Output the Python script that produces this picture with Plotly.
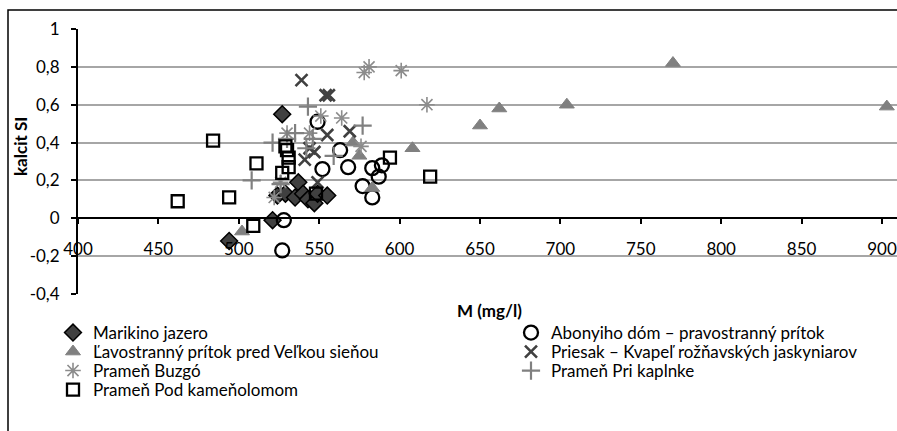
import plotly.graph_objects as go

# ---------------- data ----------------
marikino_x = [527, 494, 521, 524, 529, 537, 535, 540, 543, 547, 549, 555]
marikino_y = [0.55, -0.12, -0.01, 0.12, 0.13, 0.19, 0.11, 0.13, 0.10, 0.08, 0.13, 0.12]

abonyi_x = [549, 563, 552, 568, 583, 589, 577, 583, 587, 528, 527]
abonyi_y = [0.51, 0.36, 0.26, 0.27, 0.265, 0.28, 0.17, 0.11, 0.22, -0.01, -0.17]

lavo_x = [502, 571, 575, 583, 608, 650, 662, 704, 770, 903]
lavo_y = [-0.07, 0.40, 0.33, 0.16, 0.37, 0.49, 0.58, 0.60, 0.82, 0.59]

priesak_x = [539, 554, 556, 555, 569, 544, 541, 547, 549]
priesak_y = [0.73, 0.65, 0.65, 0.44, 0.46, 0.37, 0.31, 0.35, 0.19]

buzgo_x = [522, 526, 530, 544, 551, 564, 576, 578, 581, 601, 617]
buzgo_y = [0.11, 0.19, 0.45, 0.45, 0.54, 0.53, 0.38, 0.77, 0.80, 0.78, 0.60]

kaplnka_x = [508, 521, 526, 535, 542, 546, 543, 559, 577, 530]
kaplnka_y = [0.20, 0.40, 0.18, 0.45, 0.37, 0.42, 0.59, 0.33, 0.49, 0.42]

kamen_x = [462, 484, 494, 509, 511, 527, 529, 530, 531, 531, 548, 594, 619]
kamen_y = [0.09, 0.41, 0.11, -0.04, 0.29, 0.24, 0.38, 0.36, 0.32, 0.27, 0.13, 0.32, 0.22]

x_ticks = [400, 450, 500, 550, 600, 650, 700, 750, 800, 850, 900]
y_ticks = [-0.4, -0.2, 0, 0.2, 0.4, 0.6, 0.8, 1]
y_ticktext = ["-0,4", "-0,2", "0", "0,2", "0,4", "0,6", "0,8", "1"]

x_title = "M (mg/l)"
y_title = "kalcit SI"

FONT = "Lato, 'Open Sans', sans-serif"
FS = 17
TXT = "#000000"

L, R, T, B = 78, 0, 29, 137
W, H = 897, 431
pw = W - L - R
ph = H - T - B


def px_x(p):
    return (p - L) / pw


def px_y(p):
    return (H - B - p) / ph


fig = go.Figure()

# legend slots: (column text-left px, row centre px)
slots = {
    "legend": (93, 333), "legend2": (551, 333),
    "legend3": (93, 352), "legend4": (551, 352),
    "legend5": (93, 371), "legend6": (551, 371),
    "legend7": (93, 390),
}


def add(name, xs, ys, symbol, color, size, lcolor, lwidth, legend):
    fig.add_trace(go.Scatter(
        x=xs, y=ys, mode="markers", name=name, legend=legend,
        marker=dict(symbol=symbol, size=size, color=color,
                    line=dict(color=lcolor, width=lwidth)),
    ))


add("Marikino jazero", marikino_x, marikino_y, "diamond", "#404040", 13, "#000000", 1.5, "legend")
add("Abonyiho dóm – pravostranný prítok", abonyi_x, abonyi_y, "circle", "rgba(255,255,255,0)", 14, "#000000", 2.3, "legend2")
add("Ľavostranný prítok pred Veľkou sieňou", lavo_x, lavo_y, "triangle-up", "#808080", 13, "#808080", 1, "legend3")
add("Priesak – Kvapeľ rožňavských jaskyniarov", priesak_x, priesak_y, "x-thin-open", "#404040", 12, "#404040", 2.6, "legend4")
add("Prameň Buzgó", buzgo_x, buzgo_y, "asterisk-open", "#8c8c8c", 13, "#8c8c8c", 1.6, "legend5")
add("Prameň Pri kaplnke", kaplnka_x, kaplnka_y, "cross-thin-open", "#808080", 13, "#808080", 2.2, "legend6")
add("Prameň Pod kameňolomom", kamen_x, kamen_y, "square", "rgba(255,255,255,0)", 12, "#000000", 2.3, "legend7")

ymin, ymax = -0.4, 1.0
xpos = (0 - ymin) / (ymax - ymin)

legends = {}
for key, (tx, ty) in slots.items():
    legends[key] = dict(x=px_x(tx - 40), y=px_y(ty), xanchor="left", yanchor="middle",
                        bgcolor="rgba(0,0,0,0)", borderwidth=0,
                        font=dict(family=FONT, size=FS, color=TXT))

fig.update_layout(
    width=W, height=H,
    margin=dict(l=L, r=R, t=T, b=B, pad=0),
    paper_bgcolor="white", plot_bgcolor="white",
    font=dict(family=FONT, size=FS, color=TXT),
    showlegend=True,
    xaxis=dict(range=[400, 400 + pw / 1.608], tickvals=x_ticks,
               anchor="free", position=xpos,
               showline=True, linecolor="#000000", linewidth=2,
               ticks="outside", ticklen=5, tickwidth=2, tickcolor="#000000",
               showgrid=False, zeroline=False, ticklabelstandoff=10,
               tickfont=dict(family=FONT, size=FS, color=TXT)),
    yaxis=dict(range=[ymin, ymax], tickvals=y_ticks, ticktext=y_ticktext,
               showline=True, linecolor="#000000", linewidth=2,
               ticks="outside", ticklen=5, tickwidth=2, tickcolor="#000000",
               showgrid=True, gridcolor="#a6a6a6", gridwidth=2,
               zeroline=False, ticklabelstandoff=8,
               tickfont=dict(family=FONT, size=FS, color=TXT)),
    shapes=[dict(type="rect", xref="paper", yref="paper",
                 x0=px_x(8), x1=1.05, y0=px_y(10), y1=-0.6,
                 line=dict(color="#000000", width=1.5), layer="below")],
    annotations=[
        dict(text="<b>" + x_title + "</b>", xref="paper", yref="paper",
             x=px_x(489), y=px_y(310), xanchor="center", yanchor="middle",
             showarrow=False, font=dict(family=FONT, size=FS, color=TXT)),
        dict(text="<b>" + y_title + "</b>", xref="paper", yref="paper",
             x=px_x(20), y=px_y(147), xanchor="center", yanchor="middle",
             textangle=-90, showarrow=False,
             font=dict(family=FONT, size=FS, color=TXT)),
    ],
    **legends,
)

fig.write_html("out.html")
